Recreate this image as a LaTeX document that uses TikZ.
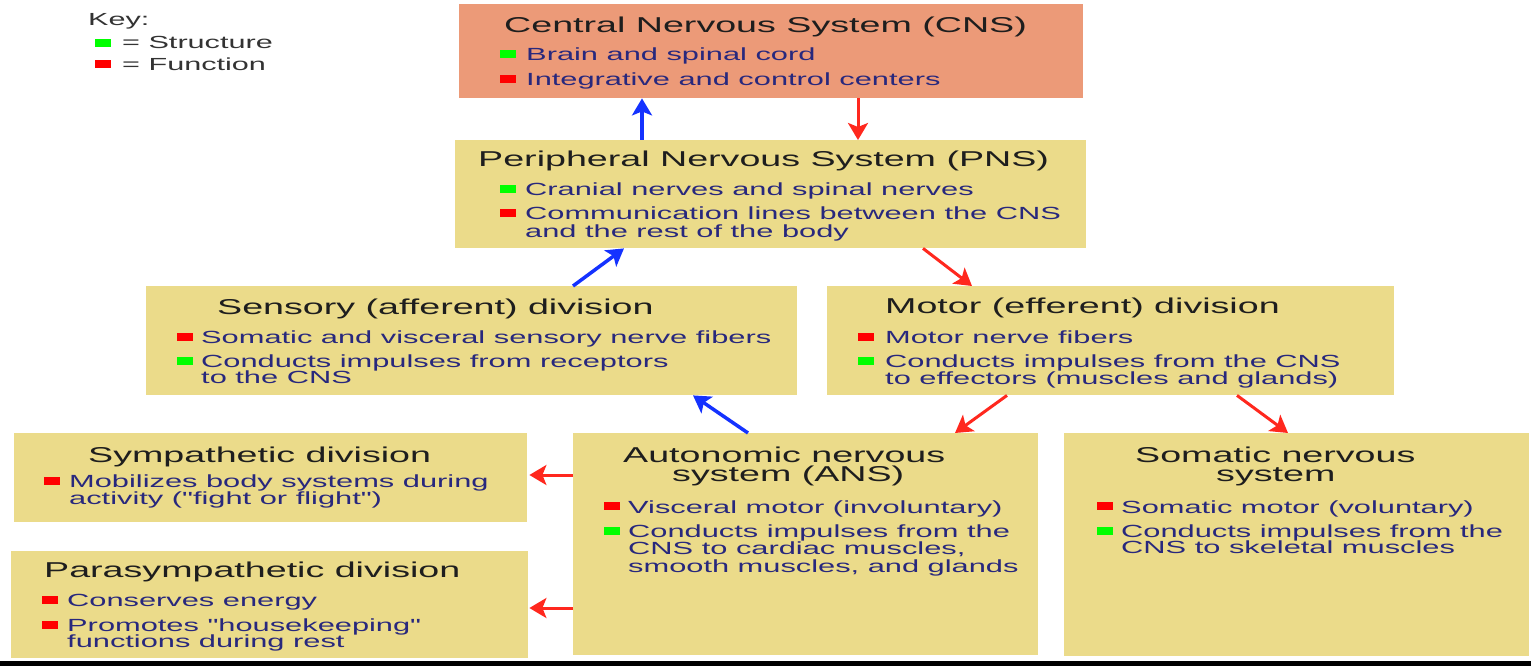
\documentclass[tikz,border=0pt]{standalone}
\usepackage{fontspec}
\setmainfont{Liberation Sans}[FakeStretch=1.75, Ligatures=TeXOff]
\usetikzlibrary{arrows.meta}
\definecolor{cnsfill}{RGB}{236,154,120}
\definecolor{boxfill}{RGB}{235,219,138}
\definecolor{itemtext}{RGB}{40,40,125}
\definecolor{titletext}{RGB}{30,30,30}
\definecolor{arrblue}{RGB}{20,50,255}
\definecolor{arrred}{RGB}{255,40,30}
\definecolor{sqgreen}{RGB}{0,255,0}
\definecolor{sqred}{RGB}{255,0,0}
\begin{document}
\begin{tikzpicture}[x=1pt,y=-1pt,
  box/.style={rectangle, fill=boxfill, draw=none, inner sep=0pt, anchor=north west},
  titletxt/.style={anchor=base west, inner sep=0pt, text=titletext, font=\fontsize{21.5}{24}\selectfont},
  itemtxt/.style={anchor=base west, inner sep=0pt, text=itemtext, font=\fontsize{17.6}{20}\selectfont},
  keytxt/.style={anchor=base west, inner sep=0pt, text=black!80, font=\fontsize{17.5}{20}\selectfont},
  sqbase/.style={rectangle, draw=none, inner sep=0pt, minimum width=16pt, minimum height=8pt},
  gsq/.style={sqbase, fill=sqgreen},
  rsq/.style={sqbase, fill=sqred},
  barr/.style={draw=arrblue, line width=3.5pt, -{Stealth[length=17pt,width=20pt,inset=4pt]}},
  rarr/.style={draw=arrred, line width=3pt, -{Stealth[length=17pt,width=20pt,inset=4pt]}}
]
\useasboundingbox (0,0) rectangle (1531,666);
\fill[white] (0,0) rectangle (1531,666);
\fill[black] (0,661) rectangle (1531,666);

% Key
\node[keytxt] (keyhead) at (88,26) {Key:};
\node[gsq] (keyg) at (103,43) {};
\node[keytxt] (keys) at (122,49) {= Structure};
\node[rsq] (keyr) at (103,64) {};
\node[keytxt] (keyf) at (122,71) {= Function};

% CNS
\node[box, fill=cnsfill, minimum width=624pt, minimum height=94pt] (cns) at (459,4) {};
\node[titletxt] (cnst) at (504,33) {Central Nervous System (CNS)};
\node[gsq] (cnsg) at (508,54) {};
\node[itemtxt] (cns1) at (526,61) {Brain and spinal cord};
\node[rsq] (cnsr) at (508,79) {};
\node[itemtxt] (cns2) at (526,86) {Integrative and control centers};

% PNS
\node[box, minimum width=631pt, minimum height=108pt] (pns) at (455,140) {};
\node[titletxt] (pnst) at (478,166) {Peripheral Nervous System (PNS)};
\node[gsq] (pnsg) at (508,189) {};
\node[itemtxt] (pns1) at (525,195) {Cranial nerves and spinal nerves};
\node[rsq] (pnsr) at (508,213) {};
\node[itemtxt] (pns2a) at (525,219) {Communication lines between the CNS};
\node[itemtxt] (pns2b) at (525,237) {and the rest of the body};

% Sensory
\node[box, minimum width=651pt, minimum height=109pt] (sens) at (146,286) {};
\node[titletxt] (senst) at (217,314) {Sensory (afferent) division};
\node[rsq] (sensr) at (185,337) {};
\node[itemtxt] (sens1) at (201,343) {Somatic and visceral sensory nerve fibers};
\node[gsq] (sensg) at (185,361) {};
\node[itemtxt] (sens2a) at (201,367) {Conducts impulses from receptors};
\node[itemtxt] (sens2b) at (201,383) {to the CNS};

% Motor
\node[box, minimum width=567pt, minimum height=109pt] (motor) at (827,286) {};
\node[titletxt] (motort) at (885,313) {Motor (efferent) division};
\node[rsq] (motorr) at (866,337) {};
\node[itemtxt] (motor1) at (885,343) {Motor nerve fibers};
\node[gsq] (motorg) at (866,361) {};
\node[itemtxt] (motor2a) at (885,367) {Conducts impulses from the CNS};
\node[itemtxt] (motor2b) at (885,384) {to effectors (muscles and glands)};

% Sympathetic
\node[box, minimum width=513pt, minimum height=89pt] (symp) at (14,433) {};
\node[titletxt] (sympt) at (88,462) {Sympathetic division};
\node[rsq] (sympr) at (52,481) {};
\node[itemtxt] (symp1a) at (69,487) {Mobilizes body systems during};
\node[itemtxt] (symp1b) at (69,504) {activity ("fight or flight")};

% Parasympathetic
\node[box, minimum width=517pt, minimum height=107pt] (para) at (11,551) {};
\node[titletxt] (parat) at (44,577) {Parasympathetic division};
\node[rsq] (parar1) at (50,600) {};
\node[itemtxt] (para1) at (67,606) {Conserves energy};
\node[rsq] (parar2) at (50,625) {};
\node[itemtxt] (para2a) at (67,631) {Promotes "housekeeping"};
\node[itemtxt] (para2b) at (67,647) {functions during rest};

% ANS
\node[box, minimum width=465pt, minimum height=222pt] (ans) at (573,433) {};
\node[titletxt] (anst1) at (623,462) {Autonomic nervous};
\node[titletxt] (anst2) at (672,481) {system (ANS)};
\node[rsq] (ansr) at (612,506) {};
\node[itemtxt] (ans1) at (628,513) {Visceral motor (involuntary)};
\node[gsq] (ansg) at (612,531) {};
\node[itemtxt] (ans2a) at (628,537) {Conducts impulses from the};
\node[itemtxt] (ans2b) at (628,554) {CNS to cardiac muscles,};
\node[itemtxt] (ans2c) at (628,572) {smooth muscles, and glands};

% Somatic
\node[box, minimum width=465pt, minimum height=223pt] (som) at (1064,433) {};
\node[titletxt] (somt1) at (1135,462) {Somatic nervous};
\node[titletxt] (somt2) at (1216,481) {system};
\node[rsq] (somr) at (1105,506) {};
\node[itemtxt] (som1) at (1121,513) {Somatic motor (voluntary)};
\node[gsq] (somg) at (1105,531) {};
\node[itemtxt] (som2a) at (1121,537) {Conducts impulses from the};
\node[itemtxt] (som2b) at (1121,553) {CNS to skeletal muscles};

% Connectors
\draw[barr] ([xshift=187pt]pns.north west) -- ([xshift=183pt]cns.south west);
\draw[rarr] ([xshift=399pt]cns.south west) -- ([xshift=403pt]pns.north west);
\draw[barr] ([xshift=427pt]sens.north west) -- ([xshift=169pt]pns.south west);
\draw[rarr] ([xshift=468pt]pns.south west) -- ([xshift=145pt]motor.north west);
\draw[barr] ([xshift=175pt]ans.north west) -- ([xshift=547pt]sens.south west);
\draw[rarr] ([xshift=180pt]motor.south west) -- ([xshift=382pt]ans.north west);
\draw[rarr] ([xshift=410pt]motor.south west) -- ([xshift=224pt]som.north west);
\draw[rarr] ([yshift=-42pt]ans.north west) -- ([xshift=2pt,yshift=-42pt]symp.north east);
\draw[rarr] ([yshift=-175pt]ans.north west) -- ([xshift=1pt,yshift=-57pt]para.north east);
\end{tikzpicture}
\end{document}
